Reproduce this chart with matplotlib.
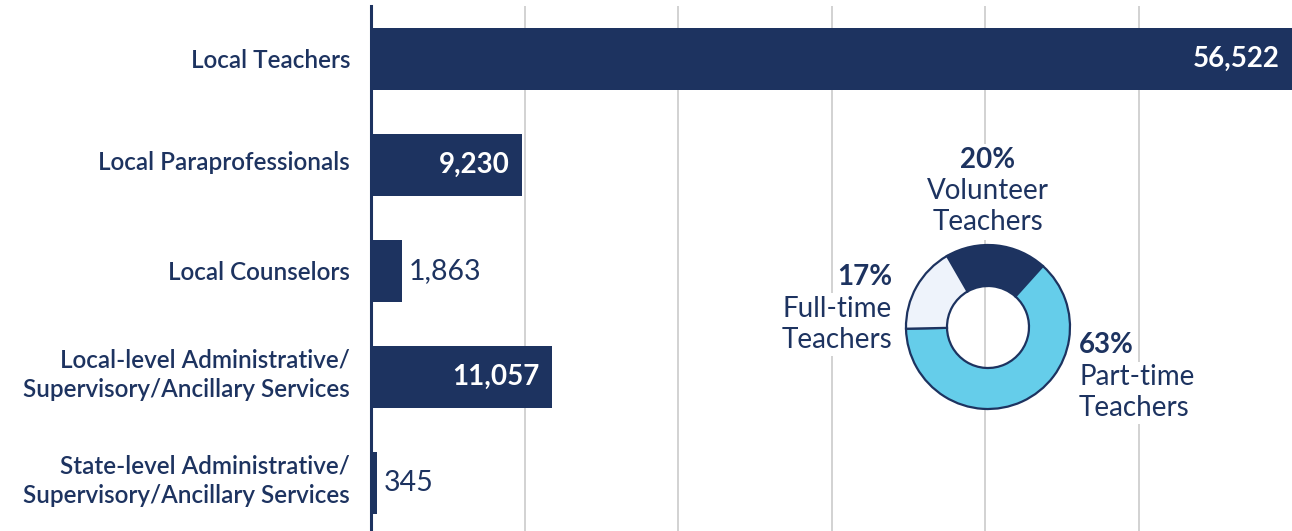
import numpy as np
import matplotlib.pyplot as plt
from matplotlib.transforms import ScaledTranslation

categories = [
    "Local Teachers",
    "Local Paraprofessionals",
    "Local Counselors",
    "Local-level Administrative/\nSupervisory/Ancillary Services",
    "State-level Administrative/\nSupervisory/Ancillary Services",
]
counts = [56522, 9230, 1863, 11057, 345]

pie_labels = ["Volunteer\nTeachers", "Part-time\nTeachers", "Full-time\nTeachers"]
pie_shares = [20, 63, 17]

NAVY = "#1d3360"
LIGHT_BLUE = "#65cdea"
PALE = "#eef3fb"
GRID = "#cfcfcf"

plt.rcParams["font.family"] = ["Lato", "DejaVu Sans"]

W, H = 1292, 531
fig = plt.figure(figsize=(W / 100, H / 100), dpi=100)

# main bar axes
ax = fig.add_axes([371 / W, (531 - 536) / H, 921 / W, 530 / H])
xmax = 56200
y = np.arange(len(categories))
ax.barh(y, counts, height=0.58, color=NAVY, zorder=2)
ax.set_xlim(0, xmax)
ax.set_ylim(len(categories) - 0.5, -0.5)

for gx in np.linspace(0, xmax, 7)[1:-1]:
    ax.axvline(gx, color=GRID, lw=1.3, zorder=1)

for s in ["top", "right", "bottom"]:
    ax.spines[s].set_visible(False)
ax.spines["left"].set_color(NAVY)
ax.spines["left"].set_linewidth(2.2)
ax.spines["left"].set_zorder(3)
ax.set_xticks([])
ax.set_yticks(y)
ax.set_yticklabels(categories, fontsize=17.5, color=NAVY, fontweight="semibold",
                   linespacing=1.3)
ax.tick_params(axis="y", length=0, pad=15)

# labels sit a little above the bar centre in the original
shifts = [0, 5, 0, 7, 7]
for lbl, dy in zip(ax.get_yticklabels(), shifts):
    lbl.set_transform(lbl.get_transform() + ScaledTranslation(0, dy / 100, fig.dpi_scale_trans))

for i, v in enumerate(counts):
    label = f"{v:,}"
    if v > 5000:
        ax.annotate(label, xy=(min(v, xmax), i), xytext=(-9, 0),
                    textcoords="offset points", ha="right", va="center",
                    color="white", fontsize=20, fontweight="bold", zorder=4)
    else:
        ax.annotate(label, xy=(v, i), xytext=(5, 0),
                    textcoords="offset points", ha="left", va="center",
                    color=NAVY, fontsize=20.5, zorder=4)

# donut inset
R = 82
S = 200
pax = fig.add_axes([(988 - S / 2) / W, (H - 327 - S / 2) / H, S / W, S / H])
L = S / (2 * R)
pax.pie(pie_shares, colors=[NAVY, LIGHT_BLUE, PALE], startangle=120,
        counterclock=False, radius=1,
        wedgeprops=dict(width=0.5, edgecolor=NAVY, linewidth=1.6))
pax.set_xlim(-L, L)
pax.set_ylim(-L, L)
pax.set_aspect("equal")
pax.axis("off")

box = dict(facecolor="white", edgecolor="none", pad=2)
txt = dict(color=NAVY, fontsize=20, clip_on=False, zorder=1)

pax.text(0, 2.04, f"{pie_shares[0]}%", ha="center", va="center",
         fontweight="bold", bbox=box, **txt)
pax.text(0, 1.47, pie_labels[0], ha="center", va="center",
         linespacing=1.22, bbox=dict(facecolor="white", edgecolor="none", pad=4), **txt)

pax.text(-1.17, 0.61, f"{pie_shares[2]}%", ha="right", va="center",
         fontweight="bold", bbox=box, **txt)
pax.text(-1.17, 0.03, pie_labels[2], ha="right", va="center",
         linespacing=1.22, bbox=box, **txt)

pax.text(1.11, -0.22, f"{pie_shares[1]}%", ha="left", va="center",
         fontweight="bold", bbox=box, **txt)
pax.text(1.11, -0.80, pie_labels[1], ha="left", va="center",
         linespacing=1.22, bbox=box, **txt)

fig.savefig("out.png", dpi=100, facecolor="white")
